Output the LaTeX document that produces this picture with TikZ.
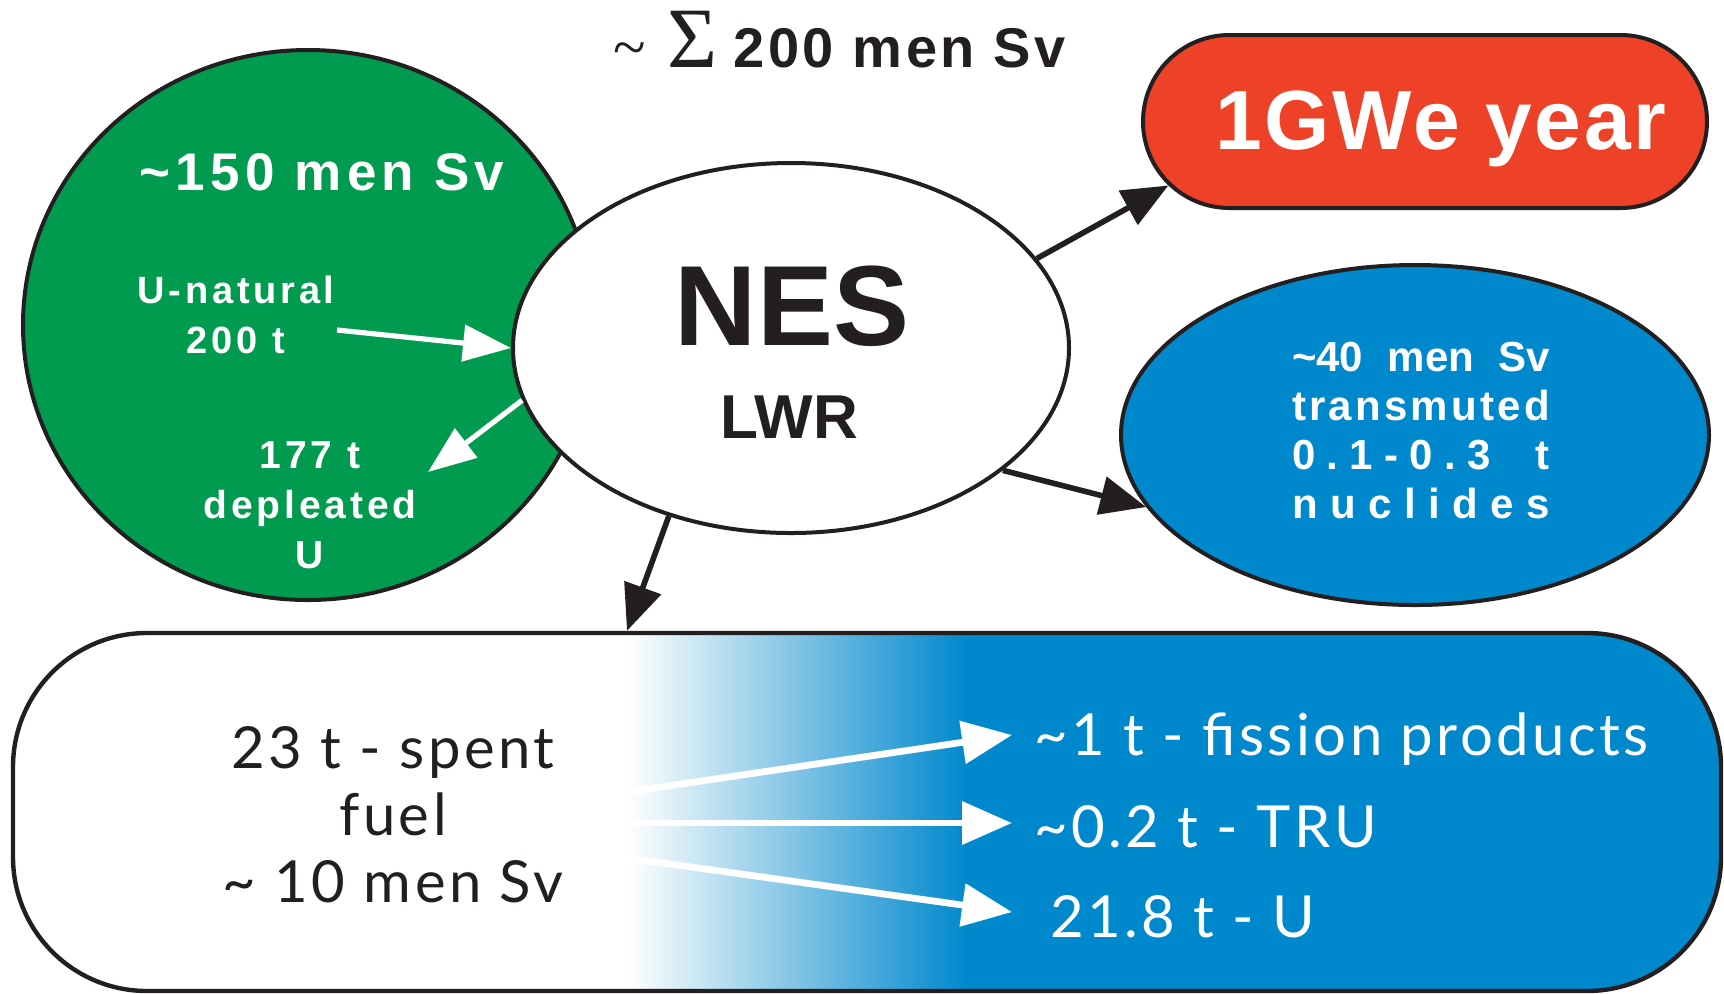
\documentclass[tikz,border=0pt]{standalone}
\usepackage{fontspec}
\setmainfont{Liberation Sans}
\newfontfamily\serifF{Liberation Serif}
\newfontfamily\bsA{Liberation Sans}[LetterSpace=10]
\newfontfamily\bsB{Liberation Sans}[LetterSpace=6]
\newfontfamily\bsC{Liberation Sans}[LetterSpace=3]
\newfontfamily\lightF{Lato}[LetterSpace=6]
\usetikzlibrary{shapes.geometric,shapes.misc,arrows.meta,calc}
\definecolor{nesgreen}{RGB}{0,155,78}
\definecolor{nesred}{RGB}{238,66,40}
\definecolor{nesblue}{RGB}{0,136,204}
\definecolor{ink}{RGB}{35,31,32}
\begin{document}
\begin{tikzpicture}[x=0.5pt,y=-0.5pt,
  shapeline/.style={draw=ink, line width=2pt, inner sep=0pt},
  blackarrow/.style={draw=ink, line width=2.8pt, -{Triangle[length=23pt,width=19pt]}},
  whitearrow/.style={draw=white, line width=2.6pt, -{Triangle[length=24pt,width=18pt]}},
  bigwhitearrow/.style={draw=white, line width=3.4pt, -{Triangle[length=25pt,width=21pt]}},
  lighttxt/.style={font=\lightF\fontsize{29}{33.5}\selectfont}]
\useasboundingbox (0,0) rectangle (1724,993);

% shapes
\node[ellipse, shapeline, fill=nesgreen, minimum width=285pt, minimum height=275pt] (green) at (308,325) {};
\node[ellipse, shapeline, fill=white, minimum width=278pt, minimum height=185pt] (nes) at (791,348) {};
\node[rounded rectangle, shapeline, fill=nesred, minimum width=282pt, minimum height=86.5pt] (gwe) at (1425,121.5) {};
\node[ellipse, shapeline, fill=nesblue, minimum width=294pt, minimum height=170pt] (trans) at (1415,435) {};

\begin{scope}
  \clip[rounded corners=67pt] (13,633) rectangle (1721,991);
  \fill[white] (0,600) rectangle (628,1000);
  \shade[left color=white, right color=nesblue] (627,600) rectangle (968,1000);
  \fill[nesblue] (967,600) rectangle (1730,1000);
\end{scope}
\node[draw=ink, line width=2.2pt, rounded corners=67pt, minimum width=854pt, minimum height=179pt, inner sep=0pt] (box) at (867,812) {};

% texts (multi-line nodes: base = baseline of last line)
\node[anchor=base west, text=ink, inner sep=0pt] (title) at (613,67)
  {{\serifF\fontsize{30}{30}\selectfont\textasciitilde}\hspace{11pt}{\serifF\fontsize{43}{43}\selectfont Σ}\hspace{8pt}{\bsB\bfseries\fontsize{28}{28}\selectfont 200 men Sv}};
\node[anchor=base, text=white, inner sep=0pt, font=\bsA\bfseries\fontsize{26.5}{26.5}\selectfont] (g150) at (322,190) {\textasciitilde150 men Sv};
\node[anchor=base, text=white, inner sep=0pt, align=center, font=\bsA\bfseries\fontsize{19}{25}\selectfont] (unat) at (236,353) {U-natural\\200 t};
\node[anchor=base, text=white, inner sep=0pt, align=center, font=\bsA\bfseries\fontsize{19.5}{25}\selectfont] (depl) at (310,568) {177 t\\depleated\\U};
\node[anchor=base, text=ink, inner sep=0pt, font=\bfseries\fontsize{57}{57}\selectfont] (nest) at (792,345) {NES};
\node[anchor=base, text=ink, inner sep=0pt, font=\bfseries\fontsize{31}{31}\selectfont] (lwr) at (789,438) {LWR};
\node[anchor=base, text=white, inner sep=0pt, font=\bsC\bfseries\fontsize{42}{42}\selectfont] (gwet) at (1441,149.5) {1GWe year};
\node[anchor=base, text=white, inner sep=0pt, align=center, font=\bfseries\fontsize{21}{24.5}\selectfont] (transt) at (1421,518)
  {\hbox to 129pt{\textasciitilde40\hskip 0pt plus 0.6fil\ men\hskip 0pt plus 0.6fil\ Sv}\\
   \hbox to 129pt{t\hfil r\hfil a\hfil n\hfil s\hfil m\hfil u\hfil t\hfil e\hfil d}\\
   \hbox to 129pt{0\hfil .\hfil 1\hfil -\hfil 0\hfil .\hfil 3\hskip 0pt plus 4fil t}\\
   \hbox to 129pt{n\hfil u\hfil c\hfil l\hfil i\hfil d\hfil e\hfil s}};
\node[anchor=base, text=ink, inner sep=0pt, align=center, lighttxt] (spent) at (393,902) {23 t - spent\\fuel\\\textasciitilde\ 10 men Sv};
\node[anchor=base west, text=white, inner sep=0pt, lighttxt] (fp) at (1034,755) {\textasciitilde1 t - fission products};
\node[anchor=base west, text=white, inner sep=0pt, lighttxt] (tru) at (1034,847) {\textasciitilde0.2 t - TRU};
\node[anchor=base west, text=white, inner sep=0pt, lighttxt] (ur) at (1050,937) {21.8 t - U};

% connectors
\coordinate (unatOut) at (337,330);
\coordinate (deplIn) at (428,472);
\coordinate (sf) at (627,823);
\draw[whitearrow] (unatOut) -- (nes.west);
\draw[whitearrow] (nes.191) -- (deplIn);
\draw[blackarrow] (nes.20) -- (gwe.194);
\draw[blackarrow] (nes.-30) -- (trans.195);
\draw[blackarrow] (nes.234) -- (sf |- box.north);
\draw[bigwhitearrow] ($(sf)+(0,-31)$) -- ($(fp.base west)+(-22,-20)$);
\draw[bigwhitearrow] (sf) -- ($(tru.base west)+(-22,-24)$);
\draw[bigwhitearrow] ($(sf)+(0,35)$) -- ($(ur.base west)+(-38,-25)$);
\end{tikzpicture}
\end{document}
